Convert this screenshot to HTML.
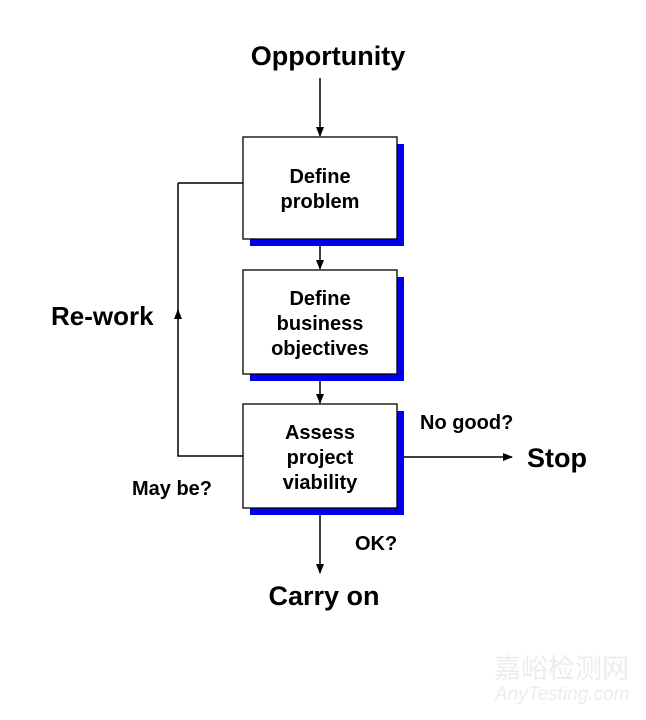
<!DOCTYPE html>
<html><head><style>body{margin:0;background:#fff}</style></head><body>
<svg width="646" height="715" xmlns="http://www.w3.org/2000/svg" font-family="Liberation Sans, Arial, sans-serif" font-weight="bold">
<defs><marker id="a" markerWidth="10" markerHeight="10" refX="9" refY="5" orient="auto" markerUnits="userSpaceOnUse"><path d="M0,1 L10,5 L0,9 z" fill="#000"/></marker></defs>
<rect x="250" y="144" width="154" height="102" fill="#0000ee"/>
<rect x="243" y="137" width="154" height="102" fill="#fff" stroke="#000" stroke-width="1.3"/>
<rect x="250" y="277" width="154" height="104" fill="#0000ee"/>
<rect x="243" y="270" width="154" height="104" fill="#fff" stroke="#000" stroke-width="1.3"/>
<rect x="250" y="411" width="154" height="104" fill="#0000ee"/>
<rect x="243" y="404" width="154" height="104" fill="#fff" stroke="#000" stroke-width="1.3"/>
<g stroke="#000" stroke-width="1.5" fill="none">
<line x1="320" y1="78" x2="320" y2="136" marker-end="url(#a)"/>
<line x1="320" y1="246" x2="320" y2="269" marker-end="url(#a)"/>
<line x1="320" y1="381" x2="320" y2="403" marker-end="url(#a)"/>
<line x1="320" y1="515" x2="320" y2="573" marker-end="url(#a)"/>
<line x1="404" y1="457" x2="512" y2="457" marker-end="url(#a)"/>
<polyline points="243,456 178,456 178,310" marker-end="url(#a)"/>
<line x1="178" y1="183" x2="243" y2="183"/>
<line x1="178" y1="183" x2="178" y2="312"/>
</g>
<g text-anchor="middle" fill="#000">
<text x="328" y="65" font-size="27">Opportunity</text>
<text x="320" y="183" font-size="20">Define</text>
<text x="320" y="208" font-size="20">problem</text>
<text x="320" y="305" font-size="20">Define</text>
<text x="320" y="330" font-size="20">business</text>
<text x="320" y="355" font-size="20">objectives</text>
<text x="320" y="439" font-size="20">Assess</text>
<text x="320" y="464" font-size="20">project</text>
<text x="320" y="489" font-size="20">viability</text>
<text x="324" y="605" font-size="27">Carry on</text>
</g>
<text x="51" y="325" font-size="26">Re-work</text>
<text x="132" y="495" font-size="20">May be?</text>
<text x="420" y="429" font-size="20">No good?</text>
<text x="527" y="467" font-size="27">Stop</text>
<text x="355" y="550" font-size="20">OK?</text>
<text x="494" y="678" font-size="27" fill="#ececec" font-weight="normal" font-family="Noto Sans CJK SC, sans-serif">嘉峪检测网</text>
<text x="495" y="700" font-size="19" fill="#ececec" font-style="italic" font-weight="normal">AnyTesting.com</text>
</svg>
</body></html>
